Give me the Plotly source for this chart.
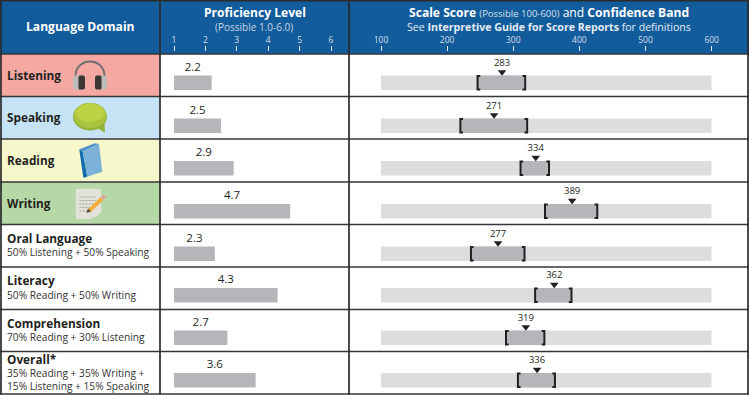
import plotly.graph_objects as go

# ---- data ----
domains = ["Listening", "Speaking", "Reading", "Writing", "Oral Language", "Literacy", "Comprehension", "Overall*"]
subtitles = ["", "", "", "", "50% Listening + 50% Speaking", "50% Reading + 50% Writing",
             "70% Reading + 30% Listening", "35% Reading + 35% Writing +<br>15% Listening + 15% Speaking"]
proficiency = [2.2, 2.5, 2.9, 4.7, 2.3, 4.3, 2.7, 3.6]
scale_score = [283, 271, 334, 389, 277, 362, 319, 336]
band_low = [246, 220, 311, 348, 236, 333, 289, 307]
band_high = [318, 321, 354, 427, 317, 388, 347, 363]
prof_ticks = [1, 2, 3, 4, 5, 6]
score_ticks = [100, 200, 300, 400, 500, 600]

# ---- layout constants (pixels) ----
W, H = 749, 395
row_lines = [54, 96.5, 139, 182, 224.5, 267, 309.5, 351.5, 394]
bar_tops = [75.5, 118.5, 161, 204, 246.5, 288, 330.5, 373]
bar_h = 14.5
row_fill = ["#f5a8a1", "#c5e3f5", "#f6f8cc", "#b6d7a6", "white", "white", "white", "white"]
FONT = "Open Sans"
DARK = "#231f20"
BLUE = "#135c9b"
BAR = "#b5b6b9"
BAND = "#dcddde"
centers = [t + bar_h / 2 for t in bar_tops]

fig = go.Figure()

# proficiency bars
fig.add_trace(go.Bar(x=[v - 1 for v in proficiency], base=[1] * 8, y=centers, width=bar_h, orientation="h",
                     marker=dict(color=BAR, line_width=0), xaxis="x", yaxis="y", hoverinfo="skip"))
fig.add_trace(go.Scatter(x=[(1 + v) / 2 for v in proficiency], y=[t - 7.5 for t in bar_tops], mode="text",
                         text=[f"{v:.1f}" for v in proficiency], textposition="middle center",
                         textfont=dict(family=FONT, size=11.5, color=DARK), xaxis="x", yaxis="y", cliponaxis=False))
# full scale background
fig.add_trace(go.Bar(x=[500] * 8, base=[100] * 8, y=centers, width=bar_h, orientation="h",
                     marker=dict(color=BAND, line_width=0), xaxis="x2", yaxis="y2", hoverinfo="skip"))
# confidence band
fig.add_trace(go.Bar(x=[h - l for l, h in zip(band_low, band_high)], base=band_low, y=centers, width=bar_h,
                     orientation="h", marker=dict(color=BAR, line_width=0), xaxis="x2", yaxis="y2", hoverinfo="skip"))
# brackets
bx, by = [], []
for lo, hi, t_ in zip(band_low, band_high, bar_tops):
    bx += [lo + 4, lo, lo, lo + 4, None, hi - 4, hi, hi, hi - 4, None]
    by += [t_ + .5, t_ + .5, t_ + bar_h - .5, t_ + bar_h - .5, None] * 2
fig.add_trace(go.Scatter(x=bx, y=by, mode="lines", line=dict(color=DARK, width=2), xaxis="x2", yaxis="y2",
                         cliponaxis=False, hoverinfo="skip"))
# score markers and labels
fig.add_trace(go.Scatter(x=scale_score, y=[t_ - 3.4 for t_ in bar_tops], mode="markers",
                         marker=dict(symbol="triangle-down", size=7.5, color=DARK, line_width=0),
                         xaxis="x2", yaxis="y2", cliponaxis=False, hoverinfo="skip"))
fig.add_trace(go.Scatter(x=scale_score, y=[t_ - 12 for t_ in bar_tops], mode="text", text=[str(v) for v in scale_score],
                         textposition="middle center", textfont=dict(family=FONT, size=9.5, color=DARK),
                         xaxis="x2", yaxis="y2", cliponaxis=False, hoverinfo="skip"))

# ---- shapes ----
shapes = []
def px(x): return x / W
def py(y): return 1 - y / H
def s(**k):
    k.setdefault("xref", "x3"); k.setdefault("yref", "y")
    shapes.append(k)
def rect(x0, y0, x1, y1, fill):
    shapes.append(dict(type="rect", xref="paper", yref="paper", x0=px(x0), y0=py(y0), x1=px(x1), y1=py(y1),
                       fillcolor=fill, line=dict(width=0), layer="below"))
def bline(x0, y0, x1, y1, color, width):
    shapes.append(dict(type="line", xref="paper", yref="paper", x0=px(x0), y0=py(y0), x1=px(x1), y1=py(y1),
                       line=dict(color=color, width=width), layer="below"))
def path(d, fill="rgba(0,0,0,0)", lw=0, lc="rgba(0,0,0,0)", layer="above"):
    s(type="path", path=d, fillcolor=fill, line=dict(width=lw, color=lc), layer=layer)
def ellipse(x0, y0, x1, y1, fill, layer="above"):
    s(type="circle", x0=x0, y0=y0, x1=x1, y1=y1, fillcolor=fill, line=dict(width=0), layer=layer)

rect(0, 0, W, 54, BLUE)
for i, c in enumerate(row_fill):
    rect(0, row_lines[i], 160, row_lines[i + 1], c)
for y in row_lines:
    bline(0, y, W, y, "#33363a", 1.6)
for x in [1, 160, 349, 748]:
    bline(x, 0.5, x, 394.5, "#2b2b2d", 1.7)
bline(0, 0.7, W, 0.7, "#2b2b2d", 1.4)

# headphones
path("M 75.5 78 C 74 56 106 56 104.5 78", lw=1.8, lc="#6a6c6e")
path("M 73 79 Q 73 75.5 76 75.5 L 85 75.5 L 85 89.5 L 76 89.5 Q 73 89.5 73 86 Z", fill="#bdbcba")
path("M 78.5 77 Q 78.5 75.5 80 75.5 L 83 75.5 Q 85 75.5 85 77.5 L 85 87.5 Q 85 89.5 83 89.5 L 80 89.5 Q 78.5 89.5 78.5 88 Z", fill="#3b3634")
path("M 107 79 Q 107 75.5 104 75.5 L 95 75.5 L 95 89.5 L 104 89.5 Q 107 89.5 107 86 Z", fill="#bdbcba")
path("M 101.5 77 Q 101.5 75.5 100 75.5 L 97 75.5 Q 95 75.5 95 77.5 L 95 87.5 Q 95 89.5 97 89.5 L 100 89.5 Q 101.5 89.5 101.5 88 Z", fill="#3b3634")
# speech bubble
ellipse(73, 103, 107, 130.5, "#94b33a")
path("M 97 128 L 105 132.8 L 104.5 124 Z", fill="#94b33a")
ellipse(73.5, 103, 106.5, 128, "#a9c53f")
ellipse(76, 103.5, 104, 122, "#bcd144")
# book
path("M 79.3 149.3 L 95 143.3 L 99 144 L 82.7 151.7 Z", fill="#4d95c8")
path("M 79.3 149.3 L 82.7 151.7 L 87.3 176.7 L 83.3 177.7 Z", fill="#0f6cae")
path("M 82.7 151.7 L 99 144 L 102.3 171.7 L 87.3 176.7 Z", fill="#7db2d8")
# document with pencil
path("M 77.5 188.7 L 99 188.7 Q 101 188.7 101 190.7 L 101 212 Q 96 218 88 219.3 L 77.5 219.3 Q 75.7 219.3 75.7 217 L 75.7 191 Q 75.7 188.7 77.5 188.7 Z", fill="#e3e2da")
for y, x1 in [(197, 96), (200.5, 96), (204, 96), (207.5, 92), (211, 89)]:
    s(type="line", x0=79.5, x1=x1, y0=y, y1=y, line=dict(color="#a9a89f", width=1, dash="2px,1px"), layer="above")
path("M 89 211 L 102 198.5", lw=4, lc="#f0ae3c")
path("M 102 198.5 L 105 196", lw=3.5, lc="#e8a0a0")
path("M 86.5 213 L 88 208.6 L 91 211.6 Z", fill="#5a4a3a")

# ---- text ----
ann = []
def t(x, y, text, size, color=DARK, anchor="left", valign="middle", align=None):
    ann.append(dict(xref="x3", yref="y", x=x, y=y, text=text, showarrow=False, xanchor=anchor, yanchor=valign,
                    align=align or anchor, font=dict(family=FONT, size=size, color=color)))

t(80, 26.5, "<b>Language Domain</b>", 12.1, "white", "center")
t(254.5, 12.5, "<b>Proficiency Level</b>", 12.1, "white", "center")
t(254, 27, "(Possible 1.0-6.0)", 10, "#c8d6e6", "center")
t(548.5, 12.8, "<b>Scale Score</b> <span style='font-size:9.5px;color:#d5e0ec'>(Possible 100-600)</span> and <b>Confidence Band</b>", 12.1, "white", "center")
t(548.5, 27, "See <b>Interpretive Guide for Score Reports</b> for definitions", 10.6, "#e4ebf3", "center")

for i, name in enumerate(domains):
    mid = (row_lines[i] + row_lines[i + 1]) / 2
    if i < 4:
        t(5, mid - 0.5, f"<b>{name}</b>", 11.8, DARK)
    elif i < 7:
        t(5, mid - 8, f"<b>{name}</b>", 11.8, DARK)
        t(5, mid + 6.5, subtitles[i], 10.2, "#333333")
    else:
        t(5, 358.5, f"<b>{name}</b>", 11.8, DARK)
        t(5, 379, subtitles[i], 10.2, "#333333")

axis_common = dict(showgrid=False, zeroline=False, showline=False, side="top", anchor="free", position=1 - 51 / H,
                   ticks="outside", ticklen=5, tickwidth=1, tickcolor="#dfe7f0", automargin=False,
                   tickfont=dict(family=FONT, size=8.5, color="#d3deea"), fixedrange=True)
fig.update_layout(
    template="none",
    width=W, height=H, margin=dict(l=0, r=0, t=0, b=0, pad=0), paper_bgcolor="white", plot_bgcolor="rgba(0,0,0,0)",
    showlegend=False, barmode="overlay", shapes=shapes, annotations=ann,
    xaxis=dict(domain=[174 / W, 331 / W], range=[1, 6], tickvals=prof_ticks, **axis_common),
    xaxis2=dict(domain=[381 / W, 711.7 / W], range=[100, 600], tickvals=score_ticks, **axis_common),
    xaxis3=dict(domain=[0, 1], range=[0, W], visible=False, anchor="y", fixedrange=True, automargin=False),
    yaxis=dict(domain=[0, 1], range=[H, 0], visible=False, fixedrange=True, automargin=False),
    yaxis2=dict(domain=[0, 1], range=[H, 0], visible=False, overlaying="y", fixedrange=True, anchor="x2", automargin=False),
)
# invisible trace so the helper x axis exists
fig.add_trace(go.Scatter(x=[0], y=[0], mode="markers", marker=dict(opacity=0), xaxis="x3", yaxis="y", hoverinfo="skip"))
fig.write_html("out.html", config=dict(displayModeBar=False))
with open("out.html", encoding="utf-8") as f:
    html = f.read()
html = html.replace("<body>", "<body style=\"margin:0;overflow:hidden\">", 1)
with open("out.html", "w", encoding="utf-8") as f:
    f.write(html)
